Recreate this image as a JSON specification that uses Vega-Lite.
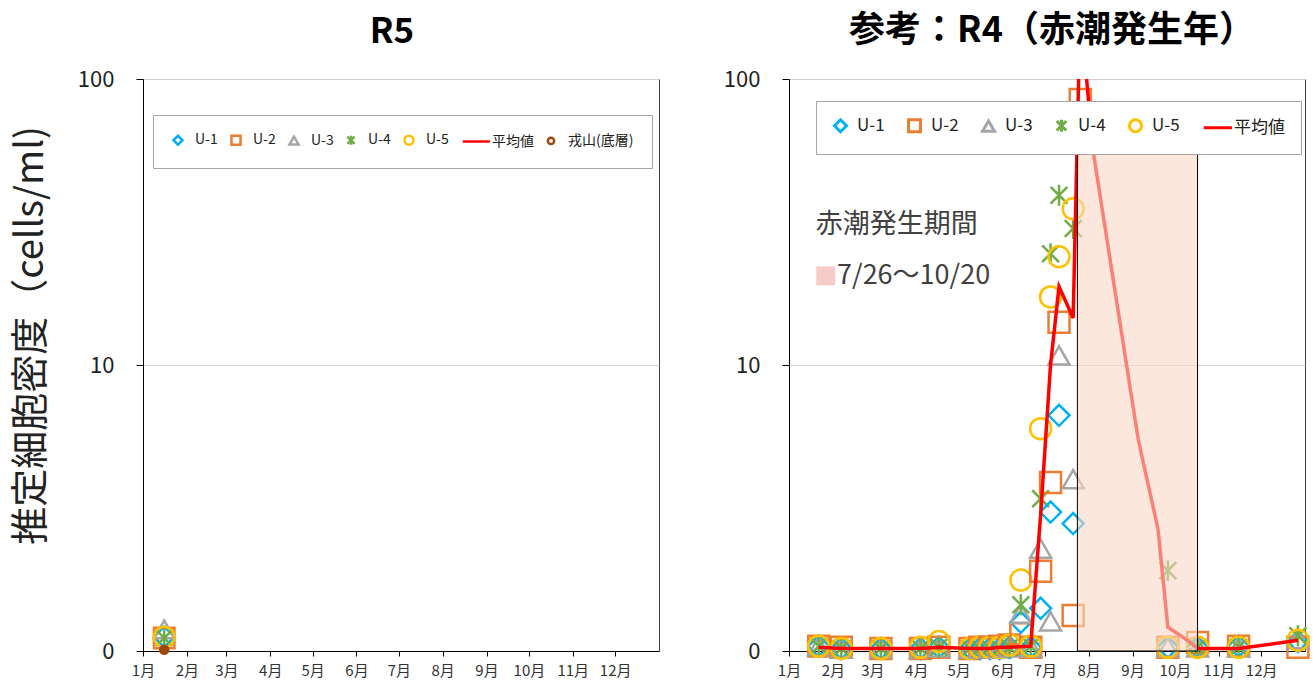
{
  "$schema": "https://vega.github.io/schema/vega-lite/v6.json",
  "background": "white",
  "padding": {"left": 11, "top": 12, "right": 4, "bottom": 2},
  "config": {
    "font": "Noto Sans CJK JP",
    "view": {"stroke": "#404040", "strokeWidth": 1}
  },
  "datasets": {
    "r5": [
      {"date": "2023-01-16", "series": "U-1", "value": 1.12},
      {"date": "2023-01-16", "series": "U-2", "value": 1.11},
      {"date": "2023-01-16", "series": "U-3", "value": 1.19},
      {"date": "2023-01-16", "series": "U-4", "value": 1.11},
      {"date": "2023-01-16", "series": "U-5", "value": 1.12},
      {"date": "2023-01-16", "series": "平均値", "value": 1.13},
      {"date": "2023-01-16", "series": "戎山(底層)", "value": 1.01}
    ],
    "r4": [
      {"date": "2022-01-22", "series": "U-1", "value": 1.04},
      {"date": "2022-01-22", "series": "U-2", "value": 1.04},
      {"date": "2022-01-22", "series": "U-3", "value": 1.04},
      {"date": "2022-01-22", "series": "U-4", "value": 1.04},
      {"date": "2022-01-22", "series": "U-5", "value": 1.04},
      {"date": "2022-02-07", "series": "U-1", "value": 1.02},
      {"date": "2022-02-07", "series": "U-2", "value": 1.03},
      {"date": "2022-02-07", "series": "U-3", "value": 1.02},
      {"date": "2022-02-07", "series": "U-4", "value": 1.02},
      {"date": "2022-02-07", "series": "U-5", "value": 1.02},
      {"date": "2022-03-07", "series": "U-1", "value": 1.02},
      {"date": "2022-03-07", "series": "U-2", "value": 1.02},
      {"date": "2022-03-07", "series": "U-3", "value": 1.02},
      {"date": "2022-03-07", "series": "U-4", "value": 1.02},
      {"date": "2022-03-07", "series": "U-5", "value": 1.02},
      {"date": "2022-04-04", "series": "U-1", "value": 1.02},
      {"date": "2022-04-04", "series": "U-2", "value": 1.02},
      {"date": "2022-04-04", "series": "U-3", "value": 1.02},
      {"date": "2022-04-04", "series": "U-4", "value": 1.02},
      {"date": "2022-04-04", "series": "U-5", "value": 1.03},
      {"date": "2022-04-17", "series": "U-1", "value": 1.03},
      {"date": "2022-04-17", "series": "U-2", "value": 1.03},
      {"date": "2022-04-17", "series": "U-3", "value": 1.03},
      {"date": "2022-04-17", "series": "U-4", "value": 1.03},
      {"date": "2022-04-17", "series": "U-5", "value": 1.08},
      {"date": "2022-05-09", "series": "U-1", "value": 1.02},
      {"date": "2022-05-09", "series": "U-2", "value": 1.02},
      {"date": "2022-05-09", "series": "U-3", "value": 1.02},
      {"date": "2022-05-09", "series": "U-4", "value": 1.02},
      {"date": "2022-05-09", "series": "U-5", "value": 1.02},
      {"date": "2022-05-16", "series": "U-1", "value": 1.02},
      {"date": "2022-05-16", "series": "U-2", "value": 1.03},
      {"date": "2022-05-16", "series": "U-3", "value": 1.02},
      {"date": "2022-05-16", "series": "U-4", "value": 1.02},
      {"date": "2022-05-16", "series": "U-5", "value": 1.03},
      {"date": "2022-05-23", "series": "U-1", "value": 1.02},
      {"date": "2022-05-23", "series": "U-2", "value": 1.03},
      {"date": "2022-05-23", "series": "U-3", "value": 1.02},
      {"date": "2022-05-23", "series": "U-4", "value": 1.02},
      {"date": "2022-05-23", "series": "U-5", "value": 1.03},
      {"date": "2022-05-30", "series": "U-1", "value": 1.02},
      {"date": "2022-05-30", "series": "U-2", "value": 1.04},
      {"date": "2022-05-30", "series": "U-3", "value": 1.02},
      {"date": "2022-05-30", "series": "U-4", "value": 1.02},
      {"date": "2022-05-30", "series": "U-5", "value": 1.03},
      {"date": "2022-06-06", "series": "U-1", "value": 1.03},
      {"date": "2022-06-06", "series": "U-2", "value": 1.05},
      {"date": "2022-06-06", "series": "U-3", "value": 1.03},
      {"date": "2022-06-06", "series": "U-4", "value": 1.03},
      {"date": "2022-06-06", "series": "U-5", "value": 1.05},
      {"date": "2022-06-14", "series": "U-1", "value": 1.26},
      {"date": "2022-06-14", "series": "U-2", "value": 1.15},
      {"date": "2022-06-14", "series": "U-3", "value": 1.35},
      {"date": "2022-06-14", "series": "U-4", "value": 1.45},
      {"date": "2022-06-14", "series": "U-5", "value": 1.77},
      {"date": "2022-06-21", "series": "U-1", "value": 1.03},
      {"date": "2022-06-21", "series": "U-2", "value": 1.03},
      {"date": "2022-06-21", "series": "U-3", "value": 1.03},
      {"date": "2022-06-21", "series": "U-4", "value": 1.04},
      {"date": "2022-06-21", "series": "U-5", "value": 1.04},
      {"date": "2022-06-28", "series": "U-1", "value": 1.41},
      {"date": "2022-06-28", "series": "U-2", "value": 1.9},
      {"date": "2022-06-28", "series": "U-3", "value": 2.28},
      {"date": "2022-06-28", "series": "U-4", "value": 3.41},
      {"date": "2022-06-28", "series": "U-5", "value": 5.99},
      {"date": "2022-07-05", "series": "U-1", "value": 3.06},
      {"date": "2022-07-05", "series": "U-2", "value": 3.88},
      {"date": "2022-07-05", "series": "U-3", "value": 1.27},
      {"date": "2022-07-05", "series": "U-4", "value": 24.5},
      {"date": "2022-07-05", "series": "U-5", "value": 17.3},
      {"date": "2022-07-11", "series": "U-1", "value": 6.67},
      {"date": "2022-07-11", "series": "U-2", "value": 14.1},
      {"date": "2022-07-11", "series": "U-3", "value": 10.8},
      {"date": "2022-07-11", "series": "U-4", "value": 39.2},
      {"date": "2022-07-11", "series": "U-5", "value": 23.9},
      {"date": "2022-07-21", "series": "U-1", "value": 2.79},
      {"date": "2022-07-21", "series": "U-2", "value": 1.33},
      {"date": "2022-07-21", "series": "U-3", "value": 3.99},
      {"date": "2022-07-21", "series": "U-4", "value": 30.0},
      {"date": "2022-07-21", "series": "U-5", "value": 35.2},
      {"date": "2022-07-26", "series": "U-2", "value": 84.8},
      {"date": "2022-09-26", "series": "U-1", "value": 1.03},
      {"date": "2022-09-26", "series": "U-2", "value": 1.03},
      {"date": "2022-09-26", "series": "U-3", "value": 1.03},
      {"date": "2022-09-26", "series": "U-4", "value": 1.91},
      {"date": "2022-09-26", "series": "U-5", "value": 1.03},
      {"date": "2022-10-17", "series": "U-1", "value": 1.03},
      {"date": "2022-10-17", "series": "U-2", "value": 1.07},
      {"date": "2022-10-17", "series": "U-3", "value": 1.03},
      {"date": "2022-10-17", "series": "U-4", "value": 1.03},
      {"date": "2022-10-17", "series": "U-5", "value": 1.03},
      {"date": "2022-11-15", "series": "U-1", "value": 1.04},
      {"date": "2022-11-15", "series": "U-2", "value": 1.04},
      {"date": "2022-11-15", "series": "U-3", "value": 1.03},
      {"date": "2022-11-15", "series": "U-4", "value": 1.03},
      {"date": "2022-11-15", "series": "U-5", "value": 1.03},
      {"date": "2022-12-27", "series": "U-1", "value": 1.08},
      {"date": "2022-12-27", "series": "U-2", "value": 1.03},
      {"date": "2022-12-27", "series": "U-3", "value": 1.1},
      {"date": "2022-12-27", "series": "U-4", "value": 1.13},
      {"date": "2022-12-27", "series": "U-5", "value": 1.09},
      {"date": "2022-01-22", "series": "平均値", "value": 1.03},
      {"date": "2022-02-07", "series": "平均値", "value": 1.02},
      {"date": "2022-03-07", "series": "平均値", "value": 1.02},
      {"date": "2022-04-04", "series": "平均値", "value": 1.02},
      {"date": "2022-04-17", "series": "平均値", "value": 1.03},
      {"date": "2022-05-09", "series": "平均値", "value": 1.02},
      {"date": "2022-05-16", "series": "平均値", "value": 1.02},
      {"date": "2022-05-23", "series": "平均値", "value": 1.02},
      {"date": "2022-05-30", "series": "平均値", "value": 1.03},
      {"date": "2022-06-06", "series": "平均値", "value": 1.03},
      {"date": "2022-06-21", "series": "平均値", "value": 1.04},
      {"date": "2022-06-28", "series": "平均値", "value": 3.0},
      {"date": "2022-07-05", "series": "平均値", "value": 10.0},
      {"date": "2022-07-11", "series": "平均値", "value": 18.8},
      {"date": "2022-07-21", "series": "平均値", "value": 14.6},
      {"date": "2022-07-26", "series": "平均値", "value": 177},
      {"date": "2022-08-04", "series": "平均値", "value": 56.5},
      {"date": "2022-09-05", "series": "平均値", "value": 5.5},
      {"date": "2022-09-19", "series": "平均値", "value": 2.67},
      {"date": "2022-09-26", "series": "平均値", "value": 1.21},
      {"date": "2022-10-10", "series": "平均値", "value": 1.09},
      {"date": "2022-10-17", "series": "平均値", "value": 1.02},
      {"date": "2022-11-15", "series": "平均値", "value": 1.02},
      {"date": "2022-12-27", "series": "平均値", "value": 1.09}
    ],
    "tide": [
      {"start": "2022-07-24", "end": "2022-10-17", "low": 1, "high": 56.5}
    ],
    "note": [
      {"date": "2022-01-20", "value": 30.8, "text": "赤潮発生期間"},
      {"date": "2022-02-04", "value": 20.5, "text": "7/26〜10/20"}
    ],
    "swatch": [
      {"date": "2022-01-27", "value": 20.5}
    ]
  },
  "hconcat": [
    {
      "width": 516,
      "height": 572,
      "title": {"text": "R5", "fontSize": 35, "fontWeight": "bold", "offset": 18, "dx": -9, "color": "#000000"},
      "layer": [
        {
          "data": {"name": "r5"},
          "transform": [{"filter": "datum.series !== '平均値'"}],
          "mark": {"type": "point", "filled": false, "strokeWidth": 2.5, "opacity": 1},
          "encoding": {
            "x": {
              "field": "date", "type": "temporal", "title": null,
              "scale": {"type": "utc", "domain": [{"year": 2023, "month": 1, "date": 1, "utc": true}, {"year": 2024, "month": 1, "date": 1, "utc": true}]},
              "axis": {
                "values": [
                  {"year": 2023, "month": 1, "date": 1, "utc": true},
                  {"year": 2023, "month": 2, "date": 1, "utc": true},
                  {"year": 2023, "month": 3, "date": 1, "utc": true},
                  {"year": 2023, "month": 4, "date": 1, "utc": true},
                  {"year": 2023, "month": 5, "date": 1, "utc": true},
                  {"year": 2023, "month": 6, "date": 1, "utc": true},
                  {"year": 2023, "month": 7, "date": 1, "utc": true},
                  {"year": 2023, "month": 8, "date": 1, "utc": true},
                  {"year": 2023, "month": 9, "date": 1, "utc": true},
                  {"year": 2023, "month": 10, "date": 1, "utc": true},
                  {"year": 2023, "month": 11, "date": 1, "utc": true},
                  {"year": 2023, "month": 12, "date": 1, "utc": true}
                ],
                "labelExpr": "utcFormat(datum.value, '%-m') + '月'", "labelFlush": false, "labelOverlap": false,
                "grid": false, "tickSize": 5, "labelPadding": 7, "labelFontSize": 15, "labelColor": "#333333",
                "domainColor": "#000000", "tickColor": "#000000"
              }
            },
            "y": {
              "field": "value", "type": "quantitative", "title": "推定細胞密度（cells/ml)",
              "scale": {"type": "log", "domain": [1, 100], "nice": false},
              "axis": {
                "values": [1, 10, 100], "labelExpr": "datum.value < 2 ? '0' : datum.value + ''",
                "labelFlush": false, "grid": true, "gridColor": "#d0d0d0", "tickSize": 7, "labelPadding": 22,
                "labelFontSize": 22, "labelColor": "#222222", "domainColor": "#000000", "tickColor": "#000000",
                "titleFontSize": 38, "titleFontWeight": "normal", "titlePadding": 27, "titleColor": "#222222",
                "titleY": 256
              }
            },
            "color": {
              "field": "series", "type": "nominal",
              "scale": {"domain": ["U-1", "U-2", "U-3", "U-4", "U-5", "平均値", "戎山(底層)"], "range": ["#00b0f0", "#ed7d31", "#a5a5a5", "#70ad47", "#ffc000", "#ff0000", "#9e480e"]},
              "legend": {
                "title": null, "orient": "none", "legendX": 10, "legendY": 36, "direction": "horizontal",
                "fillColor": "white", "strokeColor": "#a6a6a6", "padding": 18, "labelFontSize": 14, "labelColor": "#222222",
                "symbolSize": 81, "symbolStrokeWidth": 2.5, "labelOffset": 10, "columnPadding": 8, "zindex": 1,
                "encode": {"symbols": {"update": {
                  "fill": {"signal": "datum.value === '戎山(底層)' ? '#9e480e' : 'transparent'"},
                  "strokeWidth": {"signal": "datum.value === '平均値' ? 3.5 : 2.5"}
                }}}
              }
            },
            "shape": {
              "field": "series", "type": "nominal",
              "scale": {"domain": ["U-1", "U-2", "U-3", "U-4", "U-5", "平均値", "戎山(底層)"], "range": ["diamond", "square", "triangle-up", "M-0.8,-0.8L0.8,0.8M-0.8,0.8L0.8,-0.8M0,-1L0,1", "circle", "M-2.7,0L3.3,0", "M0.7,0A0.7,0.7,0,1,1,-0.7,0A0.7,0.7,0,1,1,0.7,0Z"]},
              "legend": {
                "title": null, "orient": "none", "legendX": 10, "legendY": 36, "direction": "horizontal",
                "fillColor": "white", "strokeColor": "#a6a6a6", "padding": 18, "labelFontSize": 14, "labelColor": "#222222",
                "symbolSize": 81, "symbolStrokeWidth": 2.5, "labelOffset": 10, "columnPadding": 8, "zindex": 1
              }
            },
            "size": {"condition": {"test": "datum.series === '戎山(底層)'", "value": 130}, "value": 420},
            "fill": {"condition": {"test": "datum.series === '戎山(底層)'", "value": "#9e480e"}, "value": "transparent"}
          }
        },
        {
          "data": {"name": "r5"},
          "transform": [{"filter": "datum.series === '平均値'"}],
          "mark": {"type": "line", "color": "#ff0000", "strokeWidth": 3.5, "clip": true},
          "encoding": {
            "x": {"field": "date", "type": "temporal"},
            "y": {"field": "value", "type": "quantitative"}
          }
        }
      ]
    },
    {
      "width": 516,
      "height": 572,
      "title": {"text": "参考：R4（赤潮発生年）", "fontSize": 36, "fontWeight": "bold", "offset": 18, "dx": 5, "color": "#000000"},
      "layer": [
        {
          "data": {"name": "r4"},
          "transform": [{"filter": "datum.series !== '平均値'"}],
          "mark": {"type": "point", "filled": false, "strokeWidth": 2.5, "opacity": 1},
          "encoding": {
            "x": {
              "field": "date", "type": "temporal", "title": null,
              "scale": {"type": "utc", "domain": [{"year": 2022, "month": 1, "date": 1, "utc": true}, {"year": 2023, "month": 1, "date": 1, "utc": true}]},
              "axis": {
                "values": [
                  {"year": 2022, "month": 1, "date": 1, "utc": true},
                  {"year": 2022, "month": 2, "date": 1, "utc": true},
                  {"year": 2022, "month": 3, "date": 1, "utc": true},
                  {"year": 2022, "month": 4, "date": 1, "utc": true},
                  {"year": 2022, "month": 5, "date": 1, "utc": true},
                  {"year": 2022, "month": 6, "date": 1, "utc": true},
                  {"year": 2022, "month": 7, "date": 1, "utc": true},
                  {"year": 2022, "month": 8, "date": 1, "utc": true},
                  {"year": 2022, "month": 9, "date": 1, "utc": true},
                  {"year": 2022, "month": 10, "date": 1, "utc": true},
                  {"year": 2022, "month": 11, "date": 1, "utc": true},
                  {"year": 2022, "month": 12, "date": 1, "utc": true}
                ],
                "labelExpr": "utcFormat(datum.value, '%-m') + '月'", "labelFlush": false, "labelOverlap": false,
                "grid": false, "tickSize": 5, "labelPadding": 7, "labelFontSize": 15, "labelColor": "#333333",
                "domainColor": "#000000", "tickColor": "#000000"
              }
            },
            "y": {
              "field": "value", "type": "quantitative", "title": null,
              "scale": {"type": "log", "domain": [1, 100], "nice": false},
              "axis": {
                "values": [1, 10, 100], "labelExpr": "datum.value < 2 ? '0' : datum.value + ''",
                "labelFlush": false, "grid": true, "gridColor": "#d0d0d0", "tickSize": 7, "labelPadding": 22,
                "labelFontSize": 22, "labelColor": "#222222", "domainColor": "#000000", "tickColor": "#000000"
              }
            },
            "color": {
              "field": "series", "type": "nominal",
              "scale": {"domain": ["U-1", "U-2", "U-3", "U-4", "U-5", "平均値"], "range": ["#00b0f0", "#ed7d31", "#a5a5a5", "#70ad47", "#ffc000", "#ff0000"]},
              "legend": {
                "title": null, "orient": "none", "legendX": 27, "legendY": 22, "direction": "horizontal",
                "fillColor": "white", "strokeColor": "#a6a6a6", "padding": 16, "labelFontSize": 17, "labelColor": "#222222",
                "symbolSize": 144, "symbolStrokeWidth": 3, "labelOffset": 8, "columnPadding": 17, "zindex": 1,
                "encode": {"symbols": {"update": {
                  "fill": {"value": "transparent"},
                  "strokeWidth": {"signal": "datum.value === '平均値' ? 4 : 3"}
                }}}
              }
            },
            "shape": {
              "field": "series", "type": "nominal",
              "scale": {"domain": ["U-1", "U-2", "U-3", "U-4", "U-5", "平均値"], "range": ["diamond", "square", "triangle-up", "M-0.8,-0.8L0.8,0.8M-0.8,0.8L0.8,-0.8M0,-1L0,1", "circle", "M-2.3,0L2.4,0"]},
              "legend": {
                "title": null, "orient": "none", "legendX": 27, "legendY": 22, "direction": "horizontal",
                "fillColor": "white", "strokeColor": "#a6a6a6", "padding": 16, "labelFontSize": 17, "labelColor": "#222222",
                "symbolSize": 144, "symbolStrokeWidth": 3, "labelOffset": 8, "columnPadding": 17, "zindex": 1
              }
            },
            "size": {"value": 440}
          }
        },
        {
          "data": {"name": "r4"},
          "transform": [{"filter": "datum.series === '平均値'"}],
          "mark": {"type": "line", "color": "#ff0000", "strokeWidth": 3.5, "clip": true},
          "encoding": {
            "x": {"field": "date", "type": "temporal"},
            "y": {"field": "value", "type": "quantitative"}
          }
        },
        {
          "data": {"name": "tide"},
          "mark": {"type": "rect", "fill": "#f9d7c3", "fillOpacity": 0.6, "stroke": "#000000", "strokeWidth": 1},
          "encoding": {
            "x": {"field": "start", "type": "temporal"},
            "x2": {"field": "end"},
            "y": {"field": "low", "type": "quantitative"},
            "y2": {"field": "high"}
          }
        },
        {
          "data": {"name": "note"},
          "mark": {"type": "text", "align": "left", "baseline": "middle", "fontSize": 27, "color": "#404040"},
          "encoding": {
            "x": {"field": "date", "type": "temporal"},
            "y": {"field": "value", "type": "quantitative"},
            "text": {"field": "text"}
          }
        },
        {
          "data": {"name": "swatch"},
          "mark": {"type": "point", "shape": "square", "filled": true, "color": "#f8cbcb", "opacity": 1, "size": 361},
          "encoding": {
            "x": {"field": "date", "type": "temporal"},
            "y": {"field": "value", "type": "quantitative"}
          }
        }
      ]
    }
  ],
  "spacing": 62,
  "resolve": {
    "scale": {"x": "independent", "y": "independent", "color": "independent", "shape": "independent"},
    "axis": {"x": "independent", "y": "independent"},
    "legend": {"color": "independent", "shape": "independent"}
  }
}
